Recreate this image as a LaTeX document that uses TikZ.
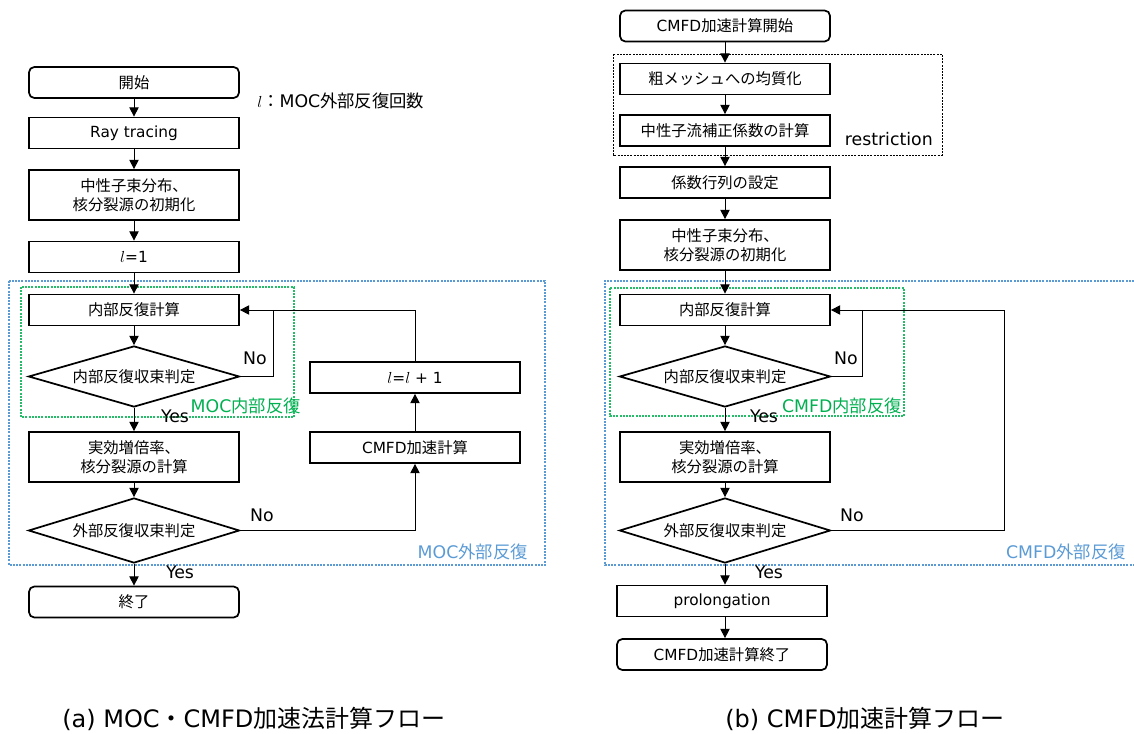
\documentclass[tikz,border=0pt]{standalone}
\usepackage{fontspec}
\setmainfont{Noto Sans CJK JP}
\newfontfamily\lat{DejaVu Sans}
\usetikzlibrary{shapes.geometric,arrows.meta}
\definecolor{loopblue}{HTML}{5B9BD5}
\definecolor{loopgreen}{HTML}{00B050}

\begin{document}
\begin{tikzpicture}[x=0.75pt,y=-0.75pt,
  boxfont/.style={font=\fontsize{11.5}{14}\selectfont},
  proc/.style={draw, line width=1.3pt, minimum width=157.5pt, minimum height=23.25pt,
    inner sep=0pt, align=center, boxfont},
  tall/.style={proc, minimum height=37.5pt},
  term/.style={proc, rounded corners=4pt},
  decision/.style={diamond, draw, line width=1.3pt, aspect=3.5, minimum width=158.25pt,
    minimum height=45.75pt, inner sep=0pt, boxfont},
  flow/.style={line width=0.75pt, -{Triangle[length=7pt,width=7pt]}},
  link/.style={line width=0.75pt},
  lbl/.style={inner sep=0pt, font=\lat\fontsize{13}{15}\selectfont},
  tag/.style={inner sep=0pt, font=\fontsize{13}{15}\selectfont},
  caption/.style={inner sep=0pt, anchor=west, font=\fontsize{18}{20}\selectfont},
  outerframe/.style={draw=loopblue, line width=0.9pt, dash pattern=on 1.5pt off 0.9pt},
  innerframe/.style={draw=loopgreen!85, line width=0.9pt, dash pattern=on 1.5pt off 0.9pt},
  restrframe/.style={draw=black, line width=0.7pt, dash pattern=on 1.5pt off 0.9pt}]
\useasboundingbox (0,0) rectangle (1134,734);

% ---------- (a) MOC / CMFD flow ----------
\draw[outerframe] (9,281) rectangle (545,565);
\draw[innerframe] (21,287) rectangle (294,417);

\node[term] (start) at (134,82.5) {開始};
\node[proc] (ray) at (134,133) {{\lat Ray tracing}};
\node[tall] (init) at (134,195) {中性子束分布、\\核分裂源の初期化};
\node[proc] (l1) at (134,257) {$l${\lat =1}};
\node[proc] (inner) at (134,310) {内部反復計算};
\node[decision] (dec1) at (134,376.5) {内部反復収束判定};
\node[tall] (keff) at (134,457) {実効増倍率、\\核分裂源の計算};
\node[decision, minimum height=48.75pt] (dec2) at (134,530.5) {外部反復収束判定};
\node[term] (fin) at (134,602) {終了};
\node[proc] (lp1) at (415,377.5) {$l${\lat =}$l${\lat\ + 1}};
\node[proc] (cmfd) at (415,447.5) {{\lat CMFD}加速計算};

\coordinate (noA) at (273,310);

\draw[flow] (start) -- (ray);
\draw[flow] (ray) -- (init);
\draw[flow] (init) -- (l1);
\draw[flow] (l1) -- (inner);
\draw[flow] (inner) -- (dec1);
\draw[flow] (dec1) -- (keff);
\draw[flow] (keff) -- (dec2);
\draw[flow] (dec2) -- (fin);
\draw[link] (dec1.east) -| (noA);
\draw[flow] (dec2.east) -| (cmfd.south);
\draw[flow] (cmfd) -- (lp1);
\draw[flow] (lp1.north) |- (inner.east);

\node[lbl] (noa1) at (255,358) {No};
\node[lbl] (yesa1) at (175,416) {Yes};
\node[lbl] (noa2) at (262,515) {No};
\node[lbl] (yesa2) at (180,572) {Yes};
\node[tag, anchor=east, text=loopgreen] (mocin) at (301,406) {{\lat MOC}内部反復};
\node[tag, anchor=east, text=loopblue] (mocout) at (528,552) {{\lat MOC}外部反復};
\node[tag, anchor=west] (legend) at (257,101) {$l$：{\lat MOC}外部反復回数};

% ---------- (b) CMFD acceleration flow ----------
\draw[restrframe] (613,54) rectangle (942,155);
\draw[outerframe] (1134,281) -| (605,565) -- (1134,565);
\draw[innerframe] (610,288) rectangle (904,416);

\node[term] (cstart) at (725,26) {{\lat CMFD}加速計算開始};
\node[proc] (homog) at (725,79) {粗メッシュへの均質化};
\node[proc] (corr) at (725,130.5) {中性子流補正係数の計算};
\node[proc] (coef) at (725,182.5) {係数行列の設定};
\node[tall] (init2) at (725,245) {中性子束分布、\\核分裂源の初期化};
\node[proc] (inner2) at (725,310) {内部反復計算};
\node[decision] (dec3) at (725,376.5) {内部反復収束判定};
\node[tall] (keff2) at (725,457) {実効増倍率、\\核分裂源の計算};
\node[decision, minimum height=48.75pt] (dec4) at (725,530.5) {外部反復収束判定};
\node[proc] (prolong) at (722,601) {{\lat prolongation}};
\node[term] (cend) at (722,654.5) {{\lat CMFD}加速計算終了};

\coordinate (noB) at (862,310);
\coordinate (loopB) at (1004,530.5);

\draw[flow] (cstart) -- (homog);
\draw[flow] (homog) -- (corr);
\draw[flow] (corr) -- (coef);
\draw[flow] (coef) -- (init2);
\draw[flow] (init2) -- (inner2);
\draw[flow] (inner2) -- (dec3);
\draw[flow] (dec3) -- (keff2);
\draw[flow] (keff2) -- (dec4);
\draw[flow] (dec4.south) -- (dec4.south |- prolong.north);
\draw[flow] (prolong.south -| dec4.south) -- (cend.north -| dec4.south);
\draw[link] (dec3.east) -| (noB);
\draw[flow] (dec4.east) -- (loopB) |- (inner2.east);

\node[lbl, anchor=east] (restr) at (933,139) {restriction};
\node[lbl] (nob1) at (846,358) {No};
\node[lbl] (yesb1) at (764,416) {Yes};
\node[lbl] (nob2) at (852,515) {No};
\node[lbl] (yesb2) at (769,572) {Yes};
\node[tag, anchor=east, text=loopgreen] (cmfdin) at (902,406) {{\lat CMFD}内部反復};
\node[tag, anchor=east, text=loopblue] (cmfdout) at (1126,552) {{\lat CMFD}外部反復};

% ---------- captions ----------
\node[caption] (capa) at (62,719) {{\lat (a) MOC}・{\lat CMFD}加速法計算フロー};
\node[caption] (capb) at (725,719) {{\lat (b) CMFD}加速計算フロー};
\end{tikzpicture}
\end{document}
